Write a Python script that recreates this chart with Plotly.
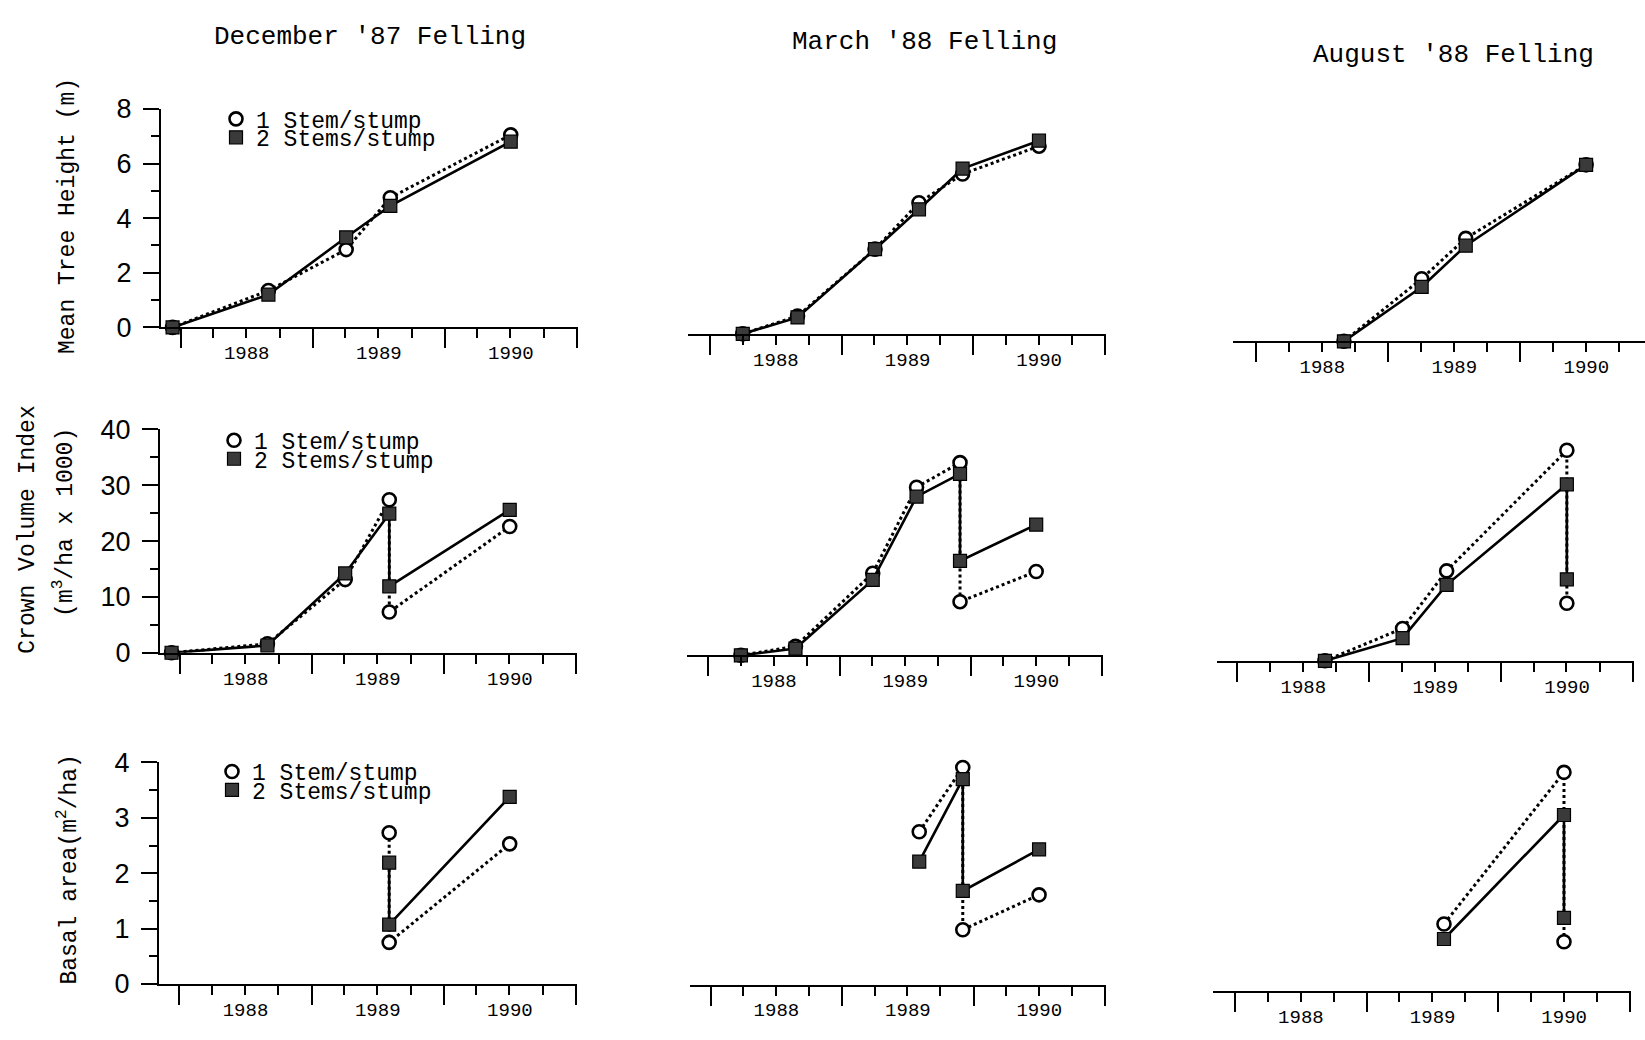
import plotly.graph_objects as go

W, H = 1645, 1040
MONO = "Liberation Mono"
SANS = "Liberation Sans"

# ---- sampling dates ----
DEC87 = "1987-12-10"
MAR88 = "1988-04-01"
AUG88 = "1988-08-31"
APR89 = "1989-04-03"
AUG89 = "1989-08-03"
DEC89 = "1989-12-02"
JUL90 = "1990-07-02"

fellings = ["December '87 Felling", "March '88 Felling", "August '88 Felling"]
series_names = ["1 Stem/stump", "2 Stems/stump"]

# ---- Mean tree height (m) ----
height_dec_x = [DEC87, AUG88, APR89, AUG89, JUL90]
height_dec_one = [0, 1.35, 2.85, 4.75, 7.05]
height_dec_two = [0, 1.2, 3.3, 4.45, 6.8]
height_mar_x = [MAR88, AUG88, APR89, AUG89, DEC89, JUL90]
height_mar_one = [0, 0.65, 3.1, 4.8, 5.85, 6.87]
height_mar_two = [0, 0.6, 3.1, 4.56, 6.05, 7.07]
height_aug_x = [AUG88, APR89, AUG89, JUL90]
height_aug_one = [0, 2.29, 3.77, 6.46]
height_aug_two = [0, 1.99, 3.5, 6.46]

# ---- Crown volume index (m3/ha x 1000) ----
crown_dec_x = [DEC87, AUG88, APR89, AUG89, AUG89, JUL90]
crown_dec_one = [0, 1.6, 13.1, 27.4, 7.3, 22.6]
crown_dec_two = [0, 1.3, 14.2, 24.9, 11.9, 25.6]
crown_mar_x = [MAR88, AUG88, APR89, AUG89, DEC89, DEC89, JUL90]
crown_mar_one = [0, 1.6, 14.7, 30.1, 34.5, 9.6, 15.0]
crown_mar_two = [0, 1.2, 13.5, 28.4, 32.5, 16.9, 23.4]
crown_aug_x = [AUG88, APR89, AUG89, JUL90, JUL90]
crown_aug_one = [0, 5.8, 16.1, 37.7, 10.3]
crown_aug_two = [0, 4.05, 13.6, 31.6, 14.6]

# ---- Basal area (m2/ha) ----
basal_dec_x = [AUG89, AUG89, JUL90]
basal_dec_one = [2.73, 0.75, 2.53]
basal_dec_two = [2.19, 1.07, 3.38]
basal_mar_x = [AUG89, DEC89, DEC89, JUL90]
basal_mar_one = [2.76, 3.92, 0.99, 1.62]
basal_mar_two = [2.22, 3.71, 1.69, 2.44]
basal_aug_x = [AUG89, JUL90, JUL90]
basal_aug_one = [1.21, 3.95, 0.89]
basal_aug_two = [0.94, 3.18, 1.32]

panels = [
    (height_dec_x, height_dec_one, height_dec_two),
    (height_mar_x, height_mar_one, height_mar_two),
    (height_aug_x, height_aug_one, height_aug_two),
    (crown_dec_x, crown_dec_one, crown_dec_two),
    (crown_mar_x, crown_mar_one, crown_mar_two),
    (crown_aug_x, crown_aug_one, crown_aug_two),
    (basal_dec_x, basal_dec_one, basal_dec_two),
    (basal_mar_x, basal_mar_one, basal_mar_two),
    (basal_aug_x, basal_aug_one, basal_aug_two),
]

y_max = [8, 40, 4]
y_dtick = [2, 10, 1]
y_minor = [1, 5, 0.5]

# panel geometry in pixels: left, right, zero line y, plot height, x range
geom = [
    (161, 578, 321.7, 225, "1987-11-08", "1991-01-04"),
    (688, 1106, 328.3, 225, "1987-11-01", "1991-01-04"),
    (1233, 1645, 336.0, 225, "1987-10-29", "1990-12-12"),
    (160, 577, 656.7, 230, "1987-11-08", "1991-01-04"),
    (687, 1103, 659.3, 230, "1987-11-03", "1991-01-04"),
    (1217, 1634, 665.0, 230, "1987-11-06", "1991-01-04"),
    (159, 577, 997.7, 228, "1987-11-06", "1991-01-04"),
    (690, 1106, 998.3, 228, "1987-11-05", "1991-01-04"),
    (1213, 1631, 1005.0, 228, "1987-11-01", "1991-01-04"),
]

fig = go.Figure()
layout = {}

circle_marker = dict(symbol="circle", size=13, color="white",
                     line=dict(color="black", width=2.6))
square_marker = dict(symbol="square", size=13, color="#3a3a3a",
                     line=dict(color="black", width=1.2))

for k, ((xs, one, two), (l, r, z, h, x0, x1)) in enumerate(zip(panels, geom)):
    row, col = divmod(k, 3)
    sfx = "" if k == 0 else str(k + 1)
    xa, ya = "x" + sfx, "y" + sfx
    fig.add_trace(go.Scatter(
        x=xs, y=one, xaxis=xa, yaxis=ya, mode="lines+markers",
        name=series_names[0], showlegend=False, cliponaxis=False,
        line=dict(color="black", width=3, dash="3px,3px"),
        marker=circle_marker,
    ))
    fig.add_trace(go.Scatter(
        x=xs, y=two, xaxis=xa, yaxis=ya, mode="lines+markers",
        name=series_names[1], showlegend=False, cliponaxis=False,
        line=dict(color="black", width=2.6),
        marker=square_marker,
    ))
    layout["xaxis" + sfx] = dict(
        type="date", domain=[l / W, r / W], range=[x0, x1], anchor=ya,
        showline=True, linecolor="black", linewidth=2,
        ticks="outside", ticklen=19, tickwidth=2, tickcolor="black",
        dtick="M12", tick0="1988-01-01", ticklabelmode="period", tickformat="%Y",
        ticklabelstandoff=-12,
        minor=dict(dtick="M3", tick0="1988-01-01", ticks="outside", ticklen=9,
                   tickwidth=2, tickcolor="black", showgrid=False),
        showgrid=False, zeroline=False, fixedrange=True,
        tickfont=dict(family=MONO, size=19, color="black"),
    )
    ydom = [1 - z / H, 1 - (z - h) / H]
    if col == 0:
        layout["yaxis" + sfx] = dict(
            domain=ydom, range=[0, y_max[row]], anchor=xa,
            showline=True, linecolor="black", linewidth=2,
            ticks="outside", ticklen=16, tickwidth=2, tickcolor="black",
            dtick=y_dtick[row], tick0=0, ticklabelstandoff=6,
            minor=dict(dtick=y_minor[row], ticks="outside", ticklen=8,
                       tickwidth=2, tickcolor="black", showgrid=False),
            showgrid=False, zeroline=False, fixedrange=True,
            tickfont=dict(family=SANS, size=27, color="black"),
        )
        # legend-only marker entries
        for j, (nm, mk) in enumerate(zip(series_names, [circle_marker, square_marker])):
            lg = 2 * row + j + 1
            fig.add_trace(go.Scatter(
                x=[None], y=[None], xaxis=xa, yaxis=ya, mode="markers",
                name=nm, marker=mk, showlegend=True,
                legend="legend" if lg == 1 else f"legend{lg}",
            ))
    else:
        layout["yaxis" + sfx] = dict(domain=ydom, range=[0, y_max[row]], anchor=xa,
                                     visible=False, fixedrange=True)

# legends (one per entry so the two lines sit tightly like the original)
legend_pos = [(216, 107), (216, 126), (214, 438), (214, 457), (212, 779), (212, 798)]
for i, (lx, ly) in enumerate(legend_pos):
    key = "legend" if i == 0 else f"legend{i + 1}"
    layout[key] = dict(x=lx / W, y=1 - ly / H, xanchor="left", yanchor="middle",
                       bgcolor="rgba(0,0,0,0)", borderwidth=0, itemwidth=30,
                       font=dict(family=MONO, size=23, color="black"))

annotations = []
title_pos = [(370, 23), (924, 28), (1453, 41)]
for t, (tx, ty) in zip(fellings, title_pos):
    annotations.append(dict(text=t, x=tx / W, y=1 - ty / H, xref="paper", yref="paper",
                            xanchor="center", yanchor="middle", showarrow=False,
                            font=dict(family=MONO, size=26, color="black")))
ytitle_specs = [
    ("Mean Tree Height (m)", 68, 207),
    ("Crown Volume Index", 28, 530),
    ("(m<sup>3</sup>/ha x 1000)", 64, 523),
    ("Basal area(m<sup>2</sup>/ha)", 68, 880),
]
for t, tx, ty in ytitle_specs:
    annotations.append(dict(text=t, x=tx / W, y=1 - ty / H, xref="paper", yref="paper",
                            xanchor="center", yanchor="middle", showarrow=False,
                            textangle=-90,
                            font=dict(family=MONO, size=23, color="black")))

fig.update_layout(
    width=W, height=H, margin=dict(l=0, r=0, t=0, b=0),
    paper_bgcolor="white", plot_bgcolor="white",
    annotations=annotations, **layout,
)

fig.write_html("out.html", config={"displayModeBar": False},
               post_script="document.body.style.margin='0';document.body.style.overflow='hidden';")
